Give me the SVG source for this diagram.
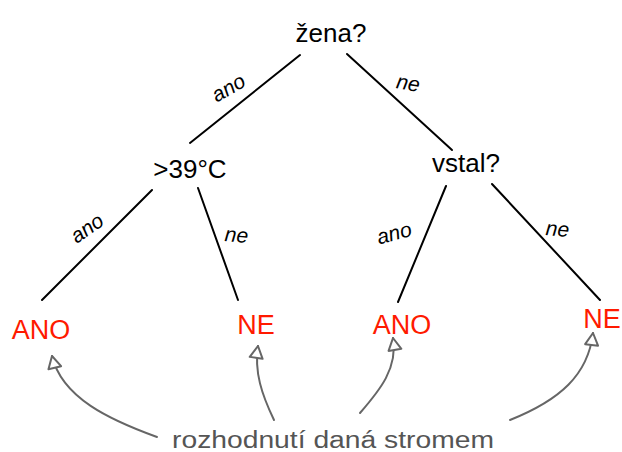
<svg xmlns="http://www.w3.org/2000/svg" width="622" height="452" viewBox="0 0 622 452">
<defs>
<style>
.q{font-family:"Liberation Sans",Arial,sans-serif;font-size:26px;fill:#000;text-anchor:middle}
.lbl{font-family:"Liberation Sans",Arial,sans-serif;font-style:italic;font-size:21px;fill:#000;text-anchor:middle}
.leaf{font-family:"Liberation Sans",Arial,sans-serif;font-size:27px;fill:#ff1a00;text-anchor:middle}
.note{font-family:"Liberation Sans",Arial,sans-serif;font-size:23px;fill:#555;text-anchor:middle}
.edge{stroke:#000;stroke-width:2;fill:none;stroke-linecap:round}
.ptr{stroke:#666;stroke-width:2;fill:none;stroke-linecap:round}
</style>
<marker id="ah" viewBox="0 0 16 16" refX="14" refY="8" markerWidth="16" markerHeight="16" markerUnits="userSpaceOnUse" orient="auto">
<path d="M14,8 L2,1.5 L2,14.5 Z" fill="#fff" stroke="#666" stroke-width="2" stroke-linejoin="round"/>
</marker>
</defs>
<rect width="622" height="452" fill="#fff"/>
<g id="connectors">
<line class="edge" x1="300" y1="55" x2="190" y2="143"/>
<line class="edge" x1="347" y1="54" x2="452" y2="150"/>
<line class="edge" x1="152" y1="190" x2="42" y2="300"/>
<line class="edge" x1="198" y1="188" x2="238" y2="300"/>
<line class="edge" x1="446" y1="186" x2="398" y2="302"/>
<line class="edge" x1="492" y1="184" x2="600" y2="300"/>
<text class="lbl" x="232" y="94" transform="rotate(-30 232 94)">ano</text>
<text class="lbl" x="407" y="90" transform="rotate(10 407 90)">ne</text>
<text class="lbl" x="91" y="234" transform="rotate(-35 91 234)">ano</text>
<text class="lbl" x="236" y="242" transform="rotate(5 236 242)">ne</text>
<text class="lbl" x="396" y="240" transform="rotate(-15 396 240)">ano</text>
<text class="lbl" x="557" y="236" transform="rotate(5 557 236)">ne</text>
<path class="ptr" d="M157,437 C110,420 62,398 52,356" marker-end="url(#ah)"/>
<path class="ptr" d="M274,420 C262,395 254,372 258,346" marker-end="url(#ah)"/>
<path class="ptr" d="M360,413 C380,390 398,368 393,338" marker-end="url(#ah)"/>
<path class="ptr" d="M510,420 C560,400 588,375 593,333" marker-end="url(#ah)"/>
</g>
<g id="root"><text class="q" x="331" y="42">žena?</text></g>
<g id="temp"><text class="q" x="190" y="178">&gt;39°C</text></g>
<g id="vstal"><text class="q" x="466" y="172">vstal?</text></g>
<g id="leaf1"><text class="leaf" x="41" y="339">ANO</text></g>
<g id="leaf2"><text class="leaf" x="256" y="334">NE</text></g>
<g id="leaf3"><text class="leaf" x="402" y="334">ANO</text></g>
<g id="leaf4"><text class="leaf" x="602" y="328">NE</text></g>
<g id="note"><text class="note" x="333" y="448" textLength="322" lengthAdjust="spacingAndGlyphs">rozhodnutí daná stromem</text></g>
</svg>
